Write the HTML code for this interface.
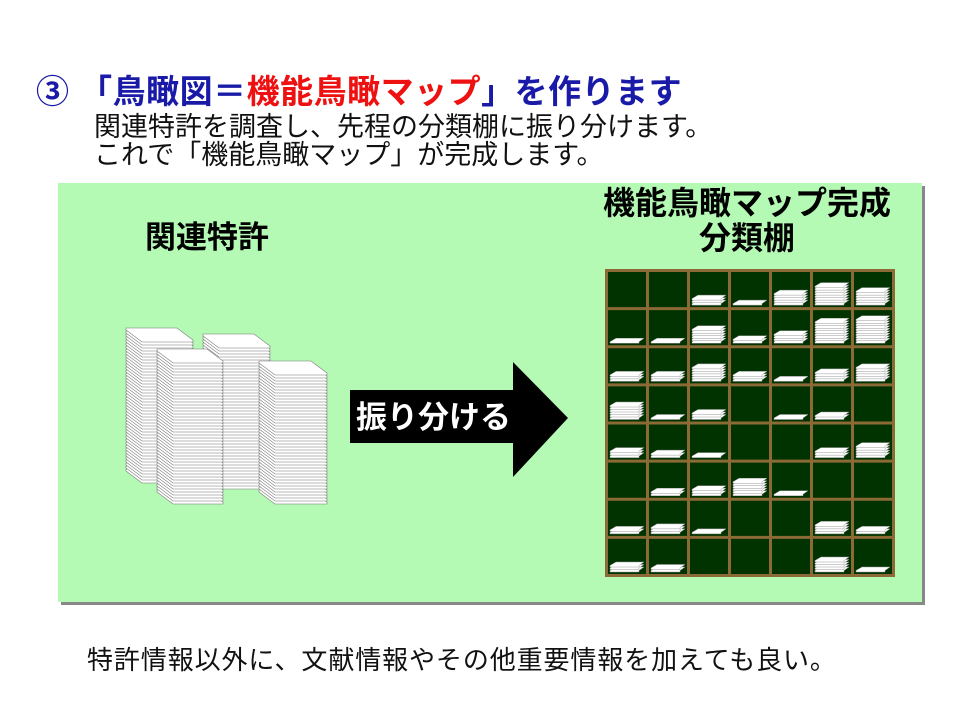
<!DOCTYPE html>
<html><head><meta charset="utf-8">
<style>
body{margin:0;width:960px;height:720px;background:#fff;position:relative;overflow:hidden;font-family:"Liberation Sans","Noto Sans CJK JP",sans-serif;}
.abs{position:absolute;white-space:nowrap;}
</style></head><body>
<div class="abs" style="left:36px;top:65px;font-size:33px;font-weight:bold;color:#1a1aa8;letter-spacing:0.5px;">③ 「鳥瞰図＝<span style="color:#ee1111">機能鳥瞰マップ</span>」を作ります</div>
<div class="abs" style="left:94px;top:113px;font-size:27px;line-height:28px;color:#111;">関連特許を調査し、先程の分類棚に振り分けます。<br>これで「機能鳥瞰マップ」が完成します。</div>
<div class="abs" style="left:61px;top:186px;width:864px;height:419px;background:#888;"></div>
<div class="abs" style="left:58px;top:183px;width:864px;height:419px;background:#b4fab4;"></div>
<div class="abs" style="left:145px;top:212px;font-size:31px;font-weight:bold;color:#000;">関連特許</div>
<div class="abs" style="left:586px;top:186px;width:322px;text-align:center;font-size:32px;font-weight:bold;line-height:35px;color:#000;">機能鳥瞰マップ完成<br>分類棚</div>
<svg class="abs" style="left:0;top:0" width="960" height="720" id="s">
<polygon points="350,390 513,390 513,362 568,418 513,477 513,443 350,443" fill="#000"/>
<text x="356" y="428" font-size="31" font-weight="bold" fill="#fff" font-family="Liberation Sans, Noto Sans CJK JP, sans-serif">振り分ける</text>
<rect x="605" y="269" width="290" height="308" fill="#8b6a35"/>
<g id="cells"></g>
<g id="stk"></g>
</svg>
<div class="abs" style="left:87px;top:640px;font-size:26px;letter-spacing:0.9px;color:#111;">特許情報以外に、文献情報やその他重要情報を加えても良い。</div>
<script>
var NS="http://www.w3.org/2000/svg";
function P(g,pts,fill,stroke,sw){var p=document.createElementNS(NS,"polygon");p.setAttribute("points",pts.map(function(a){return a.join(",")}).join(" "));p.setAttribute("fill",fill);if(stroke){p.setAttribute("stroke",stroke);p.setAttribute("stroke-width",sw);}g.appendChild(p);}
var cells=document.getElementById("cells");
var counts=[[0,0,3,1,5,8,6],[1,1,6,2,4,9,10],[3,3,6,3,1,4,6],[6,1,3,0,1,2,0],[3,2,1,0,0,3,5],[0,2,3,6,1,0,0],[2,3,1,0,0,4,2],[3,2,0,0,0,5,1]];
var cw=(290-3)/7,ch=(308-3)/8;
for(var r=0;r<8;r++)for(var c=0;c<7;c++){
 var x=605+3+c*cw,y=269+3+r*ch,w=cw-3,h=ch-3;
 P(cells,[[x,y],[x+w,y],[x+w,y+h],[x,y+h]],"#003300");
 var n=counts[r][c];
 for(var i=0;i<n;i++){var by=y+h-2-i*2.5;
  P(cells,[[x+2,by],[x+31,by],[x+31,by-1.5],[x+36,by-5],[x+8,by-5],[x+2,by-1.5]],"#fff","#999",0.5);}
}
var stk=document.getElementById("stk");
function stack(x,top,bot,w){var s=16,dy=12;var n=Math.floor((bot-top-dy-2)/3);
 for(var i=0;i<n;i++){var y=bot-dy-2-i*3;
  P(stk,[[x,y],[x+w,y],[x+w+s,y+dy],[x+w+s,y+dy+2],[x+s,y+dy+2],[x,y+2]],"#fff","#777",0.6);}
}
stack(126,323,483,51);
stack(203,330,489,51);
stack(157,345,504,50);
stack(259,358,504,52);
</script>
</body></html>
